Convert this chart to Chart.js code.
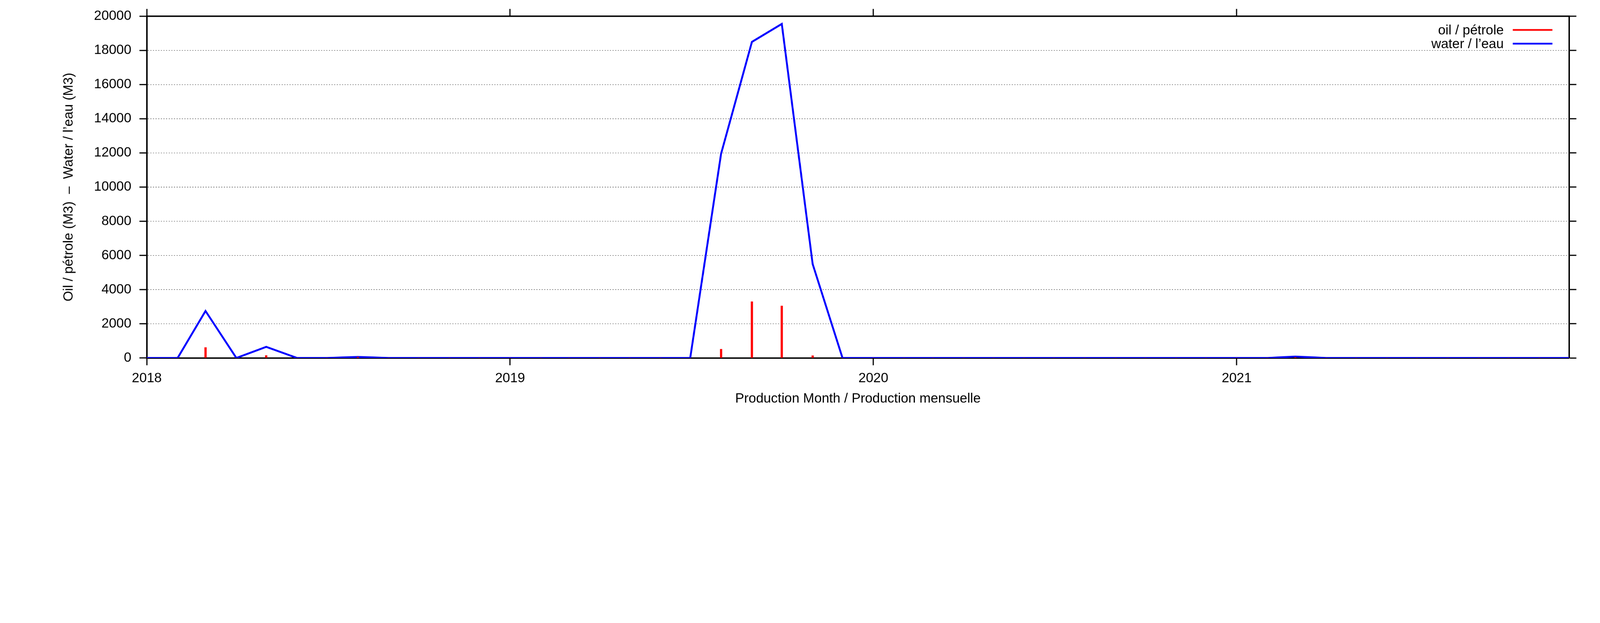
<!DOCTYPE html>
<html>
<head>
<meta charset="utf-8">
<script src="https://cdn.jsdelivr.net/npm/chart.js@4/dist/chart.umd.min.js"></script>
<style>
  html, body { margin: 0; padding: 0; background: #fff; overflow: hidden; }
  #outer { position: relative; overflow: hidden; }
  #wrap { position: absolute; left: 0; top: 0; width: 5483px; height: 1594px; transform-origin: 0 0; }
  #c { width: 5483px; height: 1594px; display: block; }
</style>
</head>
<body>
<div id="outer"><div id="wrap"><canvas id="c" width="5483" height="1594"></canvas></div></div>
<script>
// ---- data ----
const months = [
  '2018-01','2018-02','2018-03','2018-04','2018-05','2018-06','2018-07','2018-08','2018-09','2018-10','2018-11','2018-12',
  '2019-01','2019-02','2019-03','2019-04','2019-05','2019-06','2019-07','2019-08','2019-09','2019-10','2019-11','2019-12',
  '2020-01','2020-02','2020-03','2020-04','2020-05','2020-06','2020-07','2020-08','2020-09','2020-10','2020-11','2020-12',
  '2021-01','2021-02','2021-03','2021-04','2021-05','2021-06','2021-07','2021-08','2021-09','2021-10','2021-11','2021-12'
];
const oil = [
  0, 0, 620, 0, 150, 0, 0, 60, 0, 0, 0, 0,
  0, 0, 0, 0, 0, 0, 0, 520, 3300, 3050, 140, 0,
  0, 0, 0, 0, 0, 0, 0, 0, 0, 0, 0, 0,
  0, 0, 40, 0, 0, 0, 0, 0, 0, 0, 0, 0
];
const water = [
  0, 0, 2750, 0, 650, 0, 0, 60, 0, 0, 0, 0,
  0, 0, 0, 0, 0, 0, 0, 11950, 18500, 19550, 5500, 0,
  0, 0, 0, 0, 0, 0, 0, 0, 0, 0, 0, 0,
  0, 0, 80, 0, 0, 0, 0, 0, 0, 0, 0, 0
];
const yTicks = [0, 2000, 4000, 6000, 8000, 10000, 12000, 14000, 16000, 18000, 20000];
const xTickYears = [2018, 2019, 2020, 2021];
const seriesLabels = ['oil / pétrole', 'water / l’eau'];
const xTitle = 'Production Month / Production mensuelle';
const yTitle = 'Oil / pétrole (M3)  –  Water / l’eau (M3)';

// fit the 5483x1594 drawing to the actual viewport
const W = 5483, H = 1594;
const k = (window.innerWidth || W) / W;
const outer = document.getElementById('outer');
outer.style.width = (W * k) + 'px';
outer.style.height = (H * k) + 'px';
document.getElementById('wrap').style.transform = 'scale(' + k + ')';

// month string -> decimal year
function decYear(s) {
  const [y, m] = s.split('-').map(Number);
  const t0 = Date.UTC(y, 0, 1), t1 = Date.UTC(y + 1, 0, 1), t = Date.UTC(y, m - 1, 1);
  return y + (t - t0) / (t1 - t0);
}
const xs = months.map(decYear);
const xMin = xs[0], xMax = xs[xs.length - 1];

const FONT = 'Liberation Sans, Arial, Helvetica, sans-serif';
const FS = 46;
const tickFont = { family: FONT, size: FS };

const yearTicks = s => { s.ticks = xTickYears.map(v => ({ value: v })); };
const yTickSet = s => { s.ticks = yTicks.map(v => ({ value: v })); };

const legendPlugin = {
  id: 'gpLegend',
  afterDraw(chart) {
    const ctx = chart.ctx, a = chart.chartArea;
    ctx.save();
    ctx.font = FS + 'px ' + FONT;
    ctx.textAlign = 'right';
    ctx.textBaseline = 'middle';
    chart.data.datasets.forEach((ds, i) => {
      const y = a.top + 47 + i * 47;
      ctx.fillStyle = '#000';
      ctx.fillText(ds.label, a.right - 224, y + 3);
      ctx.strokeStyle = ds.borderColor;
      ctx.lineWidth = 6;
      ctx.beginPath();
      ctx.moveTo(a.right - 193, y);
      ctx.lineTo(a.right - 57, y);
      ctx.stroke();
    });
    ctx.restore();
  }
};

new Chart(document.getElementById('c'), {
  type: 'line',
  data: {
    datasets: [
      {
        type: 'bar',
        label: seriesLabels[0],
        data: xs.map((x, i) => ({ x: x, y: oil[i] })),
        backgroundColor: '#ff0000',
        borderColor: '#ff0000',
        borderWidth: 0,
        barThickness: 7,
        grouped: false,
        xAxisID: 'x',
        yAxisID: 'y'
      },
      {
        type: 'line',
        label: seriesLabels[1],
        data: xs.map((x, i) => ({ x: x, y: water[i] })),
        borderColor: '#0000ff',
        backgroundColor: '#0000ff',
        borderWidth: 6.5,
        pointRadius: 0,
        tension: 0,
        fill: false,
        xAxisID: 'x',
        yAxisID: 'y'
      }
    ]
  },
  options: {
    responsive: false,
    devicePixelRatio: 1,
    animation: false,
    layout: { padding: 0 },
    plugins: {
      legend: { display: false },
      tooltip: { enabled: false },
      title: { display: false }
    },
    scales: {
      x: {
        type: 'linear',
        position: 'bottom',
        min: xMin, max: xMax,
        offset: false,
        afterBuildTicks: yearTicks,
        afterFit: s => { s.height = 368; },
        ticks: {
          font: tickFont, color: '#000', padding: 18, maxRotation: 0, autoSkip: false,
          callback: v => String(v)
        },
        grid: {
          offset: false, drawOnChartArea: false, drawTicks: true,
          tickLength: 25, tickWidth: 4, tickColor: '#000'
        },
        border: { display: true, color: '#000', width: 5 },
        title: {
          display: true, text: xTitle, color: '#000',
          font: { family: FONT, size: FS },
          padding: { top: 0, bottom: 200 }
        }
      },
      xTop: {
        type: 'linear',
        position: 'top',
        min: xMin, max: xMax,
        offset: false,
        afterBuildTicks: yearTicks,
        afterFit: s => { s.height = 46; },
        ticks: { display: false },
        grid: {
          offset: false, drawOnChartArea: false, drawTicks: true,
          tickLength: 25, tickWidth: 4, tickColor: '#000'
        },
        border: { display: true, color: '#000', width: 5 }
      },
      y: {
        type: 'linear',
        position: 'left',
        min: 0, max: 20000,
        afterBuildTicks: yTickSet,
        afterFit: s => { s.width = 503; },
        ticks: {
          font: tickFont, color: '#000', padding: 28,
          callback: v => String(v)
        },
        grid: {
          drawOnChartArea: true, drawTicks: true,
          color: '#444', lineWidth: 1.5,
          tickLength: 25, tickWidth: 4, tickColor: '#000'
        },
        border: { display: true, color: '#000', width: 5, dash: [4, 5] },
        title: {
          display: true, text: yTitle, color: '#000',
          font: { family: FONT, size: FS },
          padding: { top: 209, bottom: 0 }
        }
      },
      yRight: {
        type: 'linear',
        position: 'right',
        min: 0, max: 20000,
        afterBuildTicks: yTickSet,
        afterFit: s => { s.width = 106; },
        ticks: { display: false },
        grid: {
          drawOnChartArea: false, drawTicks: true,
          tickLength: 25, tickWidth: 4, tickColor: '#000'
        },
        border: { display: true, color: '#000', width: 5 }
      }
    }
  },
  plugins: [legendPlugin]
});
</script>
</body>
</html>
